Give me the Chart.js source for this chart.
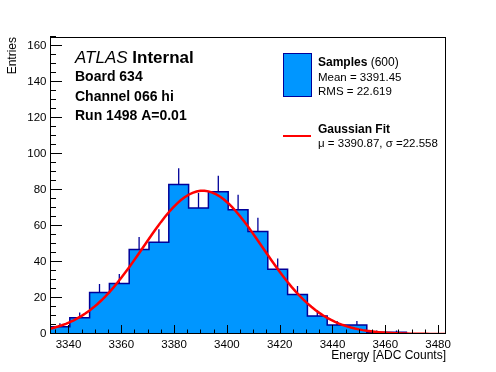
<!DOCTYPE html>
<html>
<head>
<meta charset="utf-8">
<script src="https://cdn.jsdelivr.net/npm/chart.js@4.4.0/dist/chart.umd.min.js"></script>
<style>
  html, body { margin: 0; padding: 0; background: #fff; }
  #wrap { width: 496px; height: 372px; }
</style>
</head>
<body>
<div id="wrap"><canvas id="histChart" width="496" height="372"></canvas></div>
<script>
// histogram: 20 bins of 7.5 ADC counts starting at 3333
const binLow = 3333;
const binWidth = 7.5;
const binCounts = [4, 9, 23, 28, 47, 51, 83, 70, 79, 69, 57, 36, 22, 10, 5, 5, 1, 1, 0, 0];

// fit result as printed in the legend
const fitMean = 3390.87;
const fitSigma = 22.558;
const fitAmplitude = 79.6;

const xTicks = [3340, 3360, 3380, 3400, 3420, 3440, 3460, 3480];
const yTicks = [0, 20, 40, 60, 80, 100, 120, 140, 160];
const xRange = [3333, 3483];
const yRange = [0, 165];

const FILL = 'rgb(0,150,255)';
const LINE = 'rgb(0,0,153)';
const FONT = '"Liberation Sans", Arial, Helvetica, sans-serif';

document.addEventListener("DOMContentLoaded", function () {
    drawHistogram();
});

function drawHistogram() {
    // step outline: each point starts a bin, last point closes the range
    const histPoints = binCounts.map((c, i) => ({ x: binLow + i * binWidth, y: c }));
    histPoints.push({ x: binLow + binCounts.length * binWidth, y: 0 });

    // sqrt(N) error bars, broken apart with null points
    const errPoints = [];
    binCounts.forEach((c, i) => {
        if (c <= 0) return;
        const xc = binLow + (i + 0.5) * binWidth;
        const e = Math.sqrt(c);
        errPoints.push({ x: xc, y: c - e }, { x: xc, y: c + e }, { x: xc, y: null });
    });

    // gaussian fit line over the full range
    const fitPoints = [];
    for (let k = 0; k <= 100; k++) {
        const x = xRange[0] + (xRange[1] - xRange[0]) * k / 100;
        const z = (x - fitMean) / fitSigma;
        fitPoints.push({ x: x, y: fitAmplitude * Math.exp(-0.5 * z * z) });
    }

    const rootFrame = {
        id: 'rootFrame',
        afterDraw(chart) {
            const ctx = chart.ctx;
            const a = chart.chartArea;
            const xs = chart.scales.x, ys = chart.scales.y;
            ctx.save();
            ctx.strokeStyle = '#000';
            ctx.lineWidth = 1;

            // frame
            ctx.strokeRect(Math.round(a.left) + 0.5, Math.round(a.top) + 0.5,
                Math.round(a.right - a.left) - 1, Math.round(a.bottom - a.top) - 1);

            // ticks, pointing into the frame
            ctx.beginPath();
            for (let v = 3335; v <= xRange[1]; v += 5) {
                const px = Math.round(xs.getPixelForValue(v)) + 0.5;
                const len = v % 20 === 0 ? 9 : 4.5;
                ctx.moveTo(px, a.bottom);
                ctx.lineTo(px, a.bottom - len);
            }
            for (let v = 0; v <= yRange[1]; v += 5) {
                const py = Math.round(ys.getPixelForValue(v)) - 0.5;
                const len = v % 20 === 0 ? 12 : 6;
                ctx.moveTo(a.left, py);
                ctx.lineTo(a.left + len, py);
            }
            ctx.stroke();

            // tick labels
            ctx.fillStyle = '#000';
            ctx.font = '11.5px ' + FONT;
            ctx.textAlign = 'center';
            ctx.textBaseline = 'alphabetic';
            xTicks.forEach(v => ctx.fillText(String(v), xs.getPixelForValue(v), 347.5));
            ctx.textAlign = 'right';
            ctx.textBaseline = 'middle';
            yTicks.forEach(v => ctx.fillText(String(v), 46.5, ys.getPixelForValue(v)));

            // axis titles
            ctx.font = '12px ' + FONT;
            ctx.textAlign = 'right';
            ctx.textBaseline = 'alphabetic';
            ctx.fillText('Energy [ADC Counts]', a.right, 359);
            ctx.save();
            ctx.translate(16, a.top);
            ctx.rotate(-Math.PI / 2);
            ctx.textAlign = 'right';
            ctx.fillText('Entries', 0, 0);
            ctx.restore();

            // ATLAS label block
            ctx.textAlign = 'left';
            ctx.font = 'italic 17px ' + FONT;
            ctx.fillText('ATLAS', 75, 63);
            const w = ctx.measureText('ATLAS ').width;
            ctx.font = 'bold 17px ' + FONT;
            ctx.fillText('Internal', 75 + w, 63);
            ctx.font = 'bold 14px ' + FONT;
            ctx.fillText('Board 634', 75, 81);
            ctx.fillText('Channel 066 hi', 75, 101);
            ctx.fillText('Run 1498 A=0.01', 75, 120);

            // legend
            ctx.fillStyle = FILL;
            ctx.fillRect(283.5, 53.5, 28, 43);
            ctx.strokeStyle = LINE;
            ctx.strokeRect(283.5, 53.5, 28, 43);
            ctx.fillStyle = '#000';
            ctx.font = 'bold 12px ' + FONT;
            ctx.fillText('Samples', 318, 66);
            const sw = ctx.measureText('Samples ').width;
            ctx.font = '12px ' + FONT;
            ctx.fillText('(600)', 318 + sw, 66);
            ctx.font = '11.5px ' + FONT;
            ctx.fillText('Mean = 3391.45', 318, 81);
            ctx.fillText('RMS = 22.619', 318, 95);

            ctx.strokeStyle = 'red';
            ctx.lineWidth = 2;
            ctx.beginPath();
            ctx.moveTo(283, 136);
            ctx.lineTo(311, 136);
            ctx.stroke();
            ctx.font = 'bold 12px ' + FONT;
            ctx.fillText('Gaussian Fit', 318, 133);
            ctx.font = '11.5px ' + FONT;
            ctx.fillText('\u03bc = 3390.87, \u03c3 =22.558', 318, 147);
            ctx.restore();
        }
    };

    const ctx = document.getElementById('histChart').getContext('2d');
    new Chart(ctx, {
        type: 'line',
        data: {
            datasets: [
                {
                    label: 'Gaussian Fit',
                    data: fitPoints,
                    borderColor: 'red',
                    borderWidth: 2.5,
                    pointRadius: 0,
                    fill: false,
                    order: 0
                },
                {
                    label: 'Samples',
                    data: histPoints,
                    stepped: 'before',
                    borderColor: LINE,
                    borderWidth: 1.5,
                    backgroundColor: FILL,
                    fill: 'origin',
                    pointRadius: 0,
                    order: 1
                },
                {
                    label: 'errors',
                    data: errPoints,
                    borderColor: LINE,
                    borderWidth: 1.3,
                    pointRadius: 0,
                    spanGaps: false,
                    fill: false,
                    order: 2
                }
            ]
        },
        options: {
            responsive: false,
            animation: false,
            layout: { padding: { left: 50, right: 50, top: 37, bottom: 38 } },
            scales: {
                x: { type: 'linear', min: xRange[0], max: xRange[1], display: false },
                y: { type: 'linear', min: yRange[0], max: yRange[1], display: false }
            },
            plugins: {
                legend: { display: false },
                tooltip: { enabled: false }
            }
        },
        plugins: [rootFrame]
    });
}
</script>
</body>
</html>
